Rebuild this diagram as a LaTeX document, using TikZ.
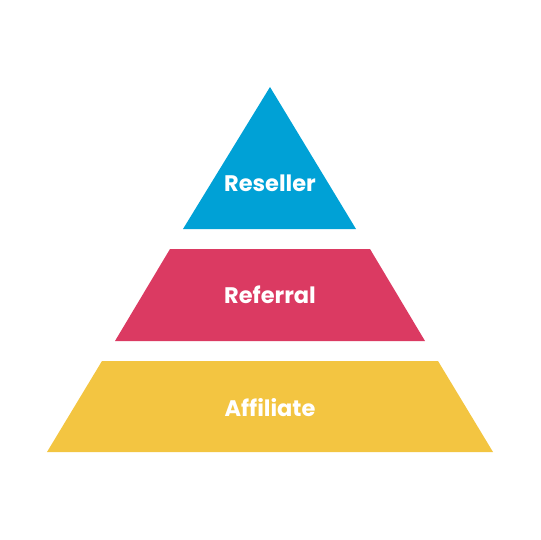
\documentclass[tikz,border=0pt]{standalone}
\usepackage{fontspec}
\setmainfont{Poppins}
\definecolor{tierblue}{HTML}{00A1D6}
\definecolor{tierpink}{HTML}{DB3A62}
\definecolor{tieryellow}{HTML}{F3C541}
\begin{document}
\begin{tikzpicture}[x=1pt, y=-1pt, every node/.style={font=\bfseries\fontsize{22.5}{27}\selectfont, text=white}]
  \useasboundingbox (0,0) rectangle (540,540);

  % Tiers
  \fill[tierblue] (270,87) -- (356,229) -- (183,229) -- cycle;
  \fill[tierpink] (170,249) -- (370,249) -- (425,341) -- (115,341) -- cycle;
  \fill[tieryellow] (102,361) -- (438,361) -- (493,452) -- (47,452) -- cycle;

  % Labels
  \node (reseller) at (270,183) {Reseller};
  \node (referral) at (270,295) {Referral};
  \node (affiliate) at (270,408) {Affiliate};
\end{tikzpicture}
\end{document}
